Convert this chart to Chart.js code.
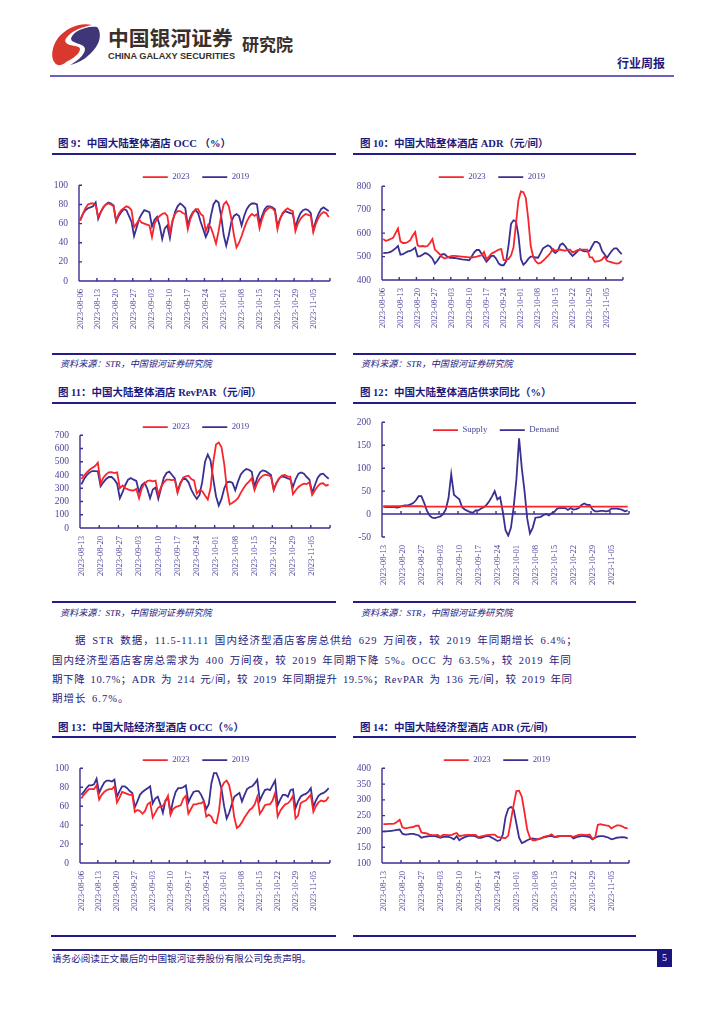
<!DOCTYPE html>
<html lang="zh">
<head>
<meta charset="utf-8">
<title>行业周报</title>
<script src="https://cdn.jsdelivr.net/npm/chart.js@4"></script>
<style>
html, body { margin: 0; padding: 0; background: #fff; }
body { position: relative; width: 724px; height: 1024px; overflow: hidden; font-family: "Liberation Serif", "Noto Sans CJK SC", serif; color: #1c1a80; }
.t { position: absolute; white-space: nowrap; line-height: 1; }
.rule { position: absolute; background: #241c8c; }
.fig { font-weight: bold; font-size: 10.5px; }
.src { font-style: italic; font-size: 9.1px; color: #25217f; }
.para { font-size: 10.5px; color: #1f1b7a; word-spacing: 2px; }
canvas { position: absolute; }
</style>
</head>
<body>
<svg style="position:absolute;left:0;top:0" width="120" height="75" viewBox="0 0 120 75">
  <path fill="#d9382e" d="M92,25 C80,22 66,28 58,38 C52,46 50,58 55,63 C57,66 62,66 66,62 C72,59 80,54 80,49 C80,46 74,46 70,45 C64,43 64,40 68,36 C73,30 83,27 92,25 Z"/>
  <path fill="#3f3579" d="M97,27 C101,31 101,40 96,47 C90,56 80,63 70,65 C76,62 85,55 85,49 C85,45 78,44 74,42 C69,40 71,36 76,32 C82,28 91,26 97,27 Z"/>
</svg>
<div class="t" style="left:108px;top:22px;font:bold 20.8px 'Noto Sans CJK SC';color:#3a2f2b">中国银河证券</div>
<div class="t" style="left:108px;top:51px;font:bold 9.2px 'Liberation Sans';color:#3a2f2b">CHINA GALAXY SECURITIES</div>
<div class="t" style="left:242px;top:31px;font:bold 17px 'Noto Sans CJK SC';color:#3a2f2b">研究院</div>
<div class="t" style="left:617px;top:54px;font:bold 12px 'Noto Sans CJK SC';color:#1c1a80">行业周报</div>
<div class="rule" style="left:50px;top:75px;width:624px;height:1.5px;background:#6a62b8"></div>

<div class="t fig" style="left:58px;top:139px">图 9：中国大陆整体酒店 OCC （%）</div>
<div class="t fig" style="left:360px;top:139px">图 10：中国大陆整体酒店 ADR（元/间）</div>
<div class="rule" style="left:52px;top:153px;width:284px;height:2px"></div>
<div class="rule" style="left:353px;top:153px;width:283px;height:2px"></div>
<div class="rule" style="left:52px;top:353px;width:284px;height:1.5px"></div>
<div class="rule" style="left:353px;top:353px;width:283px;height:1.5px"></div>
<div class="t src" style="left:60px;top:360px">资料来源：STR，中国银河证券研究院</div>
<div class="t src" style="left:361px;top:360px">资料来源：STR，中国银河证券研究院</div>

<div class="t fig" style="left:58px;top:388px">图 11：中国大陆整体酒店 RevPAR（元/间）</div>
<div class="t fig" style="left:360px;top:388px">图 12：中国大陆整体酒店供求同比（%）</div>
<div class="rule" style="left:52px;top:402px;width:284px;height:2px"></div>
<div class="rule" style="left:353px;top:402px;width:283px;height:2px"></div>
<div class="rule" style="left:52px;top:601px;width:284px;height:1.5px"></div>
<div class="rule" style="left:353px;top:601px;width:283px;height:1.5px"></div>
<div class="t src" style="left:60px;top:609px">资料来源：STR，中国银河证券研究院</div>
<div class="t src" style="left:361px;top:609px">资料来源：STR，中国银河证券研究院</div>

<div class="t para" style="left:75px;top:636px;letter-spacing:1.02px">据 STR 数据，11.5-11.11 国内经济型酒店客房总供给 629 万间夜，较 2019 年同期增长 6.4%；</div>
<div class="t para" style="left:52px;top:656px;letter-spacing:0.9px">国内经济型酒店客房总需求为 400 万间夜，较 2019 年同期下降 5%。OCC 为 63.5%，较 2019 年同</div>
<div class="t para" style="left:52px;top:675px;letter-spacing:0.61px">期下降 10.7%；ADR 为 214 元/间，较 2019 年同期提升 19.5%；RevPAR 为 136 元/间，较 2019 年同</div>
<div class="t para" style="left:52px;top:694px;letter-spacing:1px">期增长 6.7%。</div>

<div class="t fig" style="left:58px;top:723px">图 13：中国大陆经济型酒店 OCC（%）</div>
<div class="t fig" style="left:360px;top:723px">图 14：中国大陆经济型酒店 ADR (元/间)</div>
<div class="rule" style="left:52px;top:736px;width:284px;height:2px"></div>
<div class="rule" style="left:353px;top:736px;width:283px;height:2px"></div>
<div class="rule" style="left:51px;top:935px;width:285px;height:2px"></div>
<div class="rule" style="left:353px;top:935px;width:283px;height:2px"></div>

<div class="rule" style="left:52px;top:949px;width:605px;height:1.5px"></div>
<div class="t" style="left:52px;top:954px;font-size:9.6px;color:#25217f">请务必阅读正文最后的中国银河证券股份有限公司免责声明。</div>
<div class="t" style="left:657px;top:949px;width:15px;height:18px;line-height:18px;background:#1c1480;color:#fff;text-align:center;font-size:10px">5</div>

<canvas id="c9"></canvas>
<canvas id="c10"></canvas>
<canvas id="c11"></canvas>
<canvas id="c12"></canvas>
<canvas id="c13"></canvas>
<canvas id="c14"></canvas>

<script>
// weekly tick labels, the series are daily
const weeksFrom0806 = ['2023-08-06','2023-08-13','2023-08-20','2023-08-27','2023-09-03','2023-09-10','2023-09-17','2023-09-24','2023-10-01','2023-10-08','2023-10-15','2023-10-22','2023-10-29','2023-11-05'];
const weeksFrom0813 = weeksFrom0806.slice(1);

// Fig 9 OCC
const occ2023 = [63,70,76,80,81,81,79, 67,72,77,80,81,80,78, 63,70,74,76,78,77,74, 56,60,64,61,60,59,58, 46,60,65,68,70,71,68, 50,63,70,73,73,71,70, 54,65,71,75,75,70,68, 52,59,56,48,39,52,68, 80,83,78,65,48,35,40, 47,55,62,67,70,68,70, 55,65,72,75,77,76,73, 54,65,71,74,76,74,73, 52,60,65,68,70,69,68, 51,60,66,70,72,71,67];
const occ2019 = [64,70,74,76,77,78,82, 65,72,77,80,82,81,79, 62,68,72,75,74,68,62, 47,56,65,70,74,73,72, 57,64,67,58,44,55,58, 45,62,72,78,81,79,76, 58,67,72,74,71,62,54, 46,52,68,80,84,82,68, 48,37,48,62,68,70,68, 58,68,75,79,81,81,80, 60,68,75,78,78,77,75, 57,65,70,73,72,71,70, 56,65,71,74,75,74,71, 53,63,70,75,77,75,73];

// Fig 10 ADR
const adr2023 = [575,567,570,575,580,600,620, 565,558,558,562,570,590,605, 548,543,545,543,545,558,575, 530,520,510,498,492,495,500, 503,503,502,501,500,499,498, 497,496,498,500,503,505,520, 488,500,512,518,524,530,532, 485,485,490,505,540,640,740, 778,775,750,660,545,500,480, 470,473,482,492,503,515,533, 525,528,530,527,525,530,530, 518,522,528,530,530,530,530, 498,497,478,480,482,487,500, 482,478,475,472,470,472,482];
const adr2019 = [515,516,517,520,527,535,545, 508,510,516,522,524,530,538, 500,502,508,515,512,503,492, 470,482,498,510,510,500,495, 495,494,492,490,488,487,486, 484,500,518,528,528,512,495, 478,490,503,503,490,470,463, 463,480,550,640,655,650,590, 490,465,475,490,500,500,496, 495,515,535,542,548,542,525, 515,525,550,556,545,528,515, 503,512,522,532,525,522,522, 525,545,563,563,555,525,510, 495,510,525,535,535,522,510];

// Fig 11 RevPAR
const rev2023 = [370,395,420,440,455,468,493, 335,380,405,420,422,415,420, 300,320,300,292,285,283,295, 225,300,335,355,360,352,358, 250,310,345,365,365,362,365, 265,330,380,390,395,370,360, 260,285,278,245,215,300,500, 630,645,610,480,290,178,190, 205,225,265,300,330,350,375, 285,340,375,395,402,398,388, 285,340,375,395,400,390,388, 255,285,310,325,335,332,345, 250,285,315,335,338,320,328];
const rev2019 = [330,370,400,420,430,430,428, 315,345,370,385,385,365,335, 225,270,325,365,378,365,355, 270,325,342,295,225,290,305, 220,300,380,415,425,400,375, 275,340,370,370,345,290,250, 220,250,350,500,555,510,370, 240,170,220,300,345,350,340, 285,350,405,430,445,440,425, 310,380,420,435,430,415,400, 290,340,375,390,385,375,370, 310,370,410,420,410,385,365, 265,325,380,405,410,390,372];

// Fig 12 supply / demand yoy
const supply = [17,17,17,17,17,17,17, 17,17,17,17,17,17,17, 17,16,16,16,16,16,16, 16,16,16,16,16,16,16, 16,16,16,16,16,16,16, 16,16,16,16,16,16,16, 16,16,16,16,16,16,16, 16,16,16,16,16,16,16, 16,16,16,16,16,16,16, 16,16,16,16,16,16,16, 16,16,16,16,16,16,16, 16,16,16,16,16,16,16, 16,16,16,16,16,16,16];
const demand = [16,15,15,15,15,14,15, 18,19,19,21,24,30,39, 39,25,8,-3,-8,-9,-7, -5,0,10,35,87,42,37, 32,15,10,7,4,3,8, 8,12,15,20,28,38,50, 32,37,5,-35,-47,-30,15, 75,165,100,50,-10,-42,-30, -8,-7,-6,-2,0,-3,2, 5,12,13,13,13,9,13, 10,11,13,20,23,20,20, 10,6,6,7,7,6,7, 12,12,12,11,9,6,8];

// Fig 13 economy OCC
const ecoOcc2023 = [68,72,75,78,78,78,82, 67,72,75,77,78,78,81, 64,69,75,74,73,72,72, 54,56,55,52,55,62,64, 48,53,58,60,60,65,71, 51,57,59,60,61,68,71, 52,57,62,62,63,63,65, 49,51,49,43,42,55,80, 85,87,82,68,48,37,39, 43,48,52,56,58,62,70, 52,56,61,62,62,66,74, 49,55,59,62,63,66,71, 47,50,63,65,66,69,72, 54,60,64,66,65,66,70];
const ecoOcc2019 = [72,75,79,82,82,83,89, 74,80,85,87,87,86,88, 70,76,81,81,79,76,74, 59,65,72,75,77,79,81, 63,68,70,62,53,66,69, 53,66,75,79,79,80,82, 64,70,75,76,76,72,66, 57,62,84,95,95,88,78, 60,47,53,62,70,72,74, 65,72,78,80,81,84,88, 66,72,77,78,77,82,87, 61,67,72,72,70,77,78, 58,65,70,72,73,75,79, 59,66,71,73,74,76,79];

// Fig 14 economy ADR
const ecoAdr2023 = [223,223,224,224,225,230,237, 213,210,211,213,214,218,218, 197,195,194,190,188,188,189, 183,189,189,188,188,192,195, 185,187,188,189,189,189,189, 182,184,186,188,189,190,190, 183,181,180,179,187,235,285, 328,329,310,260,205,180,172, 172,176,178,182,185,187,191, 183,185,186,186,186,186,185, 183,186,189,190,189,188,190, 177,180,221,223,221,219,218, 210,215,219,219,216,211,210];
const ecoAdr2019 = [200,200,201,202,203,205,206, 193,190,191,192,192,190,188, 180,183,184,185,185,185,183, 180,183,184,183,180,175,185, 172,178,182,185,186,186,184, 180,180,183,185,185,180,175, 170,172,190,245,272,278,270, 225,180,163,167,172,176,178, 176,175,178,181,183,185,186, 182,183,185,186,186,186,186, 178,181,184,185,185,184,182, 175,180,184,185,185,183,180, 175,177,180,181,182,181,178];

const RED = '#f8262c';
const NAVY = '#3a2f93';
const INK = '#4a469a';
const SERIF = 'Liberation Serif';
const LEGEND_FONT = 8.8, LEGEND_GAP = 12.5;

// every 7th category carries a date, the rest stay blank
function dailyCategories(weeks, count) {
    const cats = [];
    for (let i = 0; i < count; i++) cats.push(i % 7 === 0 ? weeks[i / 7] : '');
    return cats;
}

// axis lines with the tick marks pointing inward, like the Excel originals
const inwardAxes = {
    id: 'inwardAxes',
    afterDraw(chart) {
        const { ctx, chartArea: a, scales: { x, y } } = chart;
        const zeroY = y.getPixelForValue(Math.max(y.min, 0));
        const step = x.getPixelForValue(1) - x.getPixelForValue(0);
        ctx.save();
        ctx.strokeStyle = NAVY;
        ctx.lineWidth = 1.4;
        ctx.beginPath();
        ctx.moveTo(a.left, a.top);
        ctx.lineTo(a.left, a.bottom);
        ctx.moveTo(a.left, zeroY);
        ctx.lineTo(a.right, zeroY);
        y.ticks.forEach(t => {
            const py = y.getPixelForValue(t.value);
            ctx.moveTo(a.left, py);
            ctx.lineTo(a.left + 3, py);
        });
        for (let i = 0; i <= x.ticks.length; i += 7) {
            const px = x.getPixelForValue(i) - step / 2;
            ctx.moveTo(px, zeroY);
            ctx.lineTo(px, zeroY - 3);
        }
        ctx.stroke();
        ctx.restore();
    }
};

function drawChart(id, box, weeks, names, first, second, yMin, yMax, yStep) {
    const yWidth = 28, legendH = 31, xHeight = 56;
    const canvas = document.getElementById(id);
    const top = box.t - legendH;
    const left = box.l - yWidth;
    canvas.width = box.r - box.l + yWidth + 10;
    canvas.height = box.b - top + xHeight;
    canvas.style.left = left + 'px';
    canvas.style.top = top + 'px';

    // the legend sits where the original has it, not where the layout stacks it
    const placeLegend = {
        id: 'placeLegend',
        afterLayout(chart) {
            const legend = chart.legend;
            const dx = box.legendX - left - canvas.width / 2;
            legend.left += dx;
            legend.right += dx;
            legend.top = box.legendY - top - LEGEND_GAP - LEGEND_FONT * 0.6;
            legend.bottom = legend.top + legend.height;
        }
    };

    return new Chart(canvas, {
        type: 'line',
        data: {
            labels: dailyCategories(weeks, first.length),
            datasets: [
                { label: names[0], data: first, borderColor: RED, backgroundColor: RED, borderWidth: 1.8, pointRadius: 0, tension: 0 },
                { label: names[1], data: second, borderColor: NAVY, backgroundColor: NAVY, borderWidth: 1.8, pointRadius: 0, tension: 0 }
            ]
        },
        options: {
            responsive: false,
            animation: false,
            plugins: {
                tooltip: { enabled: false },
                legend: {
                    position: 'top',
                    labels: {
                        boxWidth: 25, boxHeight: 0, padding: LEGEND_GAP,
                        color: INK, font: { family: SERIF, size: LEGEND_FONT }
                    }
                }
            },
            scales: {
                x: {
                    offset: true,
                    grid: { display: false },
                    border: { display: false },
                    afterFit(scale) { scale.height = xHeight; },
                    ticks: {
                        autoSkip: false, minRotation: 90, maxRotation: 90, padding: 0,
                        color: INK, font: { family: SERIF, size: 8.6 }
                    }
                },
                y: {
                    min: yMin, max: yMax,
                    grid: { display: false },
                    border: { display: false },
                    afterFit(scale) { scale.width = yWidth; },
                    ticks: {
                        autoSkip: false, stepSize: yStep, padding: 3,
                        color: INK, font: { family: SERIF, size: 9.5 }
                    }
                }
            }
        },
        plugins: [inwardAxes, placeLegend]
    });
}

const yearNames = ['2023', '2019'];
drawChart('c9',  { l: 79, r: 329, t: 185, b: 281, legendX: 196, legendY: 178 }, weeksFrom0806, yearNames, occ2023, occ2019, 0, 100, 20);
drawChart('c10', { l: 382, r: 622, t: 186, b: 280, legendX: 492, legendY: 178 }, weeksFrom0806, yearNames, adr2023, adr2019, 400, 800, 100);
drawChart('c11', { l: 80, r: 329, t: 435, b: 528, legendX: 196, legendY: 428 }, weeksFrom0813, yearNames, rev2023, rev2019, 0, 700, 100);
drawChart('c12', { l: 382, r: 628, t: 422, b: 537, legendX: 496, legendY: 431 }, weeksFrom0813, ['Supply', 'Demand'], supply, demand, -50, 200, 50);
drawChart('c13', { l: 80, r: 329, t: 768, b: 863, legendX: 196, legendY: 761 }, weeksFrom0806, yearNames, ecoOcc2023, ecoOcc2019, 0, 100, 20);
drawChart('c14', { l: 382, r: 628, t: 768, b: 863, legendX: 497, legendY: 761 }, weeksFrom0813, yearNames, ecoAdr2023, ecoAdr2019, 100, 400, 50);
</script>
</body>
</html>
